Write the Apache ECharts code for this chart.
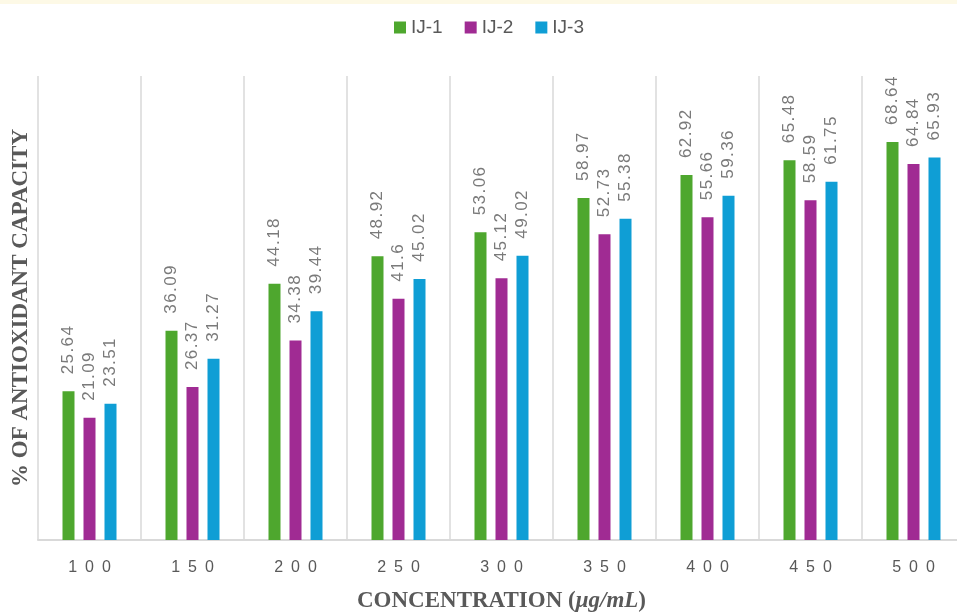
<!DOCTYPE html>
<html>
<head>
<meta charset="utf-8">
<script src="https://cdn.jsdelivr.net/npm/echarts@6/dist/echarts.min.js"></script>
<style>
  html, body { margin: 0; padding: 0; background: #fff; }
  #chart { width: 957px; height: 612px; }
</style>
</head>
<body>
<div id="chart"></div>
<script>
// concentrations (µg/mL)
var categories = ['100', '150', '200', '250', '300', '350', '400', '450', '500'];
var seriesNames = ['IJ-1', 'IJ-2', 'IJ-3'];
var ij1 = [25.64, 36.09, 44.18, 48.92, 53.06, 58.97, 62.92, 65.48, 68.64];
var ij2 = [21.09, 26.37, 34.38, 41.6, 45.12, 52.73, 55.66, 58.59, 64.84];
var ij3 = [23.51, 31.27, 39.44, 45.02, 49.02, 55.38, 59.36, 61.75, 65.93];
var colors = ['#4ea72e', '#a02b93', '#0f9ed5'];

var chart = echarts.init(document.getElementById('chart'));

function spaced(s, sep) {
  return String(s).split('').join(sep);
}

function barSeries(name, data, color) {
  return {
    name: name,
    type: 'bar',
    data: data,
    barWidth: 12,
    barGap: '75%',
    itemStyle: { color: color },
    label: {
      show: true,
      position: 'top',
      rotate: 90,
      align: 'left',
      verticalAlign: 'middle',
      distance: 17,
      color: '#7a7a7a',
      fontSize: 17,
      fontFamily: 'Liberation Sans, Arial, sans-serif',
      formatter: function (p) { return spaced(p.value, '\u200A'); }
    }
  };
}

var option = {
  backgroundColor: '#fff',
  animation: false,
  graphic: [{
    type: 'rect',
    left: 0, top: 0,
    shape: { width: 957, height: 4 },
    style: { fill: '#fdf9e6' }
  }],
  legend: {
    top: 13,
    left: 389,
    itemWidth: 12,
    itemHeight: 12,
    itemGap: 22,
    icon: 'rect',
    textStyle: { color: '#595959', fontSize: 19, fontFamily: 'Liberation Sans, Arial, sans-serif' },
    data: seriesNames
  },
  grid: { left: 38, right: -8, top: 76, bottom: 72, outerBoundsMode: 'none', containLabel: false },
  xAxis: {
    type: 'category',
    data: categories,
    axisLine: { lineStyle: { color: '#d9d9d9', width: 2 } },
    axisTick: { show: false },
    splitLine: { show: true, lineStyle: { color: '#d9d9d9', width: 1.5 } },
    axisLabel: {
      color: '#595959',
      fontSize: 16,
      margin: 20,
      fontFamily: 'Liberation Sans, Arial, sans-serif',
      formatter: function (v) { return spaced(v, '\u2002'); }
    },
    name: '{b|CONCENTRATION (}{i|μg/mL}{b|)}',
    nameLocation: 'middle',
    nameGap: 50,
    nameTextStyle: {
      rich: {
        b: { fontFamily: 'Liberation Serif, Times New Roman, serif', fontWeight: 'bold', fontSize: 23, color: '#595959' },
        i: { fontFamily: 'Liberation Serif, Times New Roman, serif', fontWeight: 'bold', fontStyle: 'italic', fontSize: 23, color: '#595959' }
      }
    }
  },
  yAxis: {
    type: 'value',
    min: 0,
    max: 80,
    interval: 10,
    axisLine: { show: false },
    axisTick: { show: false },
    axisLabel: { show: false },
    splitLine: { show: false },
    name: '% OF ANTIOXIDANT CAPACITY',
    nameLocation: 'middle',
    nameRotate: 90,
    nameGap: 5,
    nameTextStyle: {
      fontFamily: 'Liberation Serif, Times New Roman, serif',
      fontWeight: 'bold',
      fontSize: 23,
      color: '#595959'
    }
  },
  series: [
    barSeries(seriesNames[0], ij1, colors[0]),
    barSeries(seriesNames[1], ij2, colors[1]),
    barSeries(seriesNames[2], ij3, colors[2])
  ]
};

chart.setOption(option);
</script>
</body>
</html>
